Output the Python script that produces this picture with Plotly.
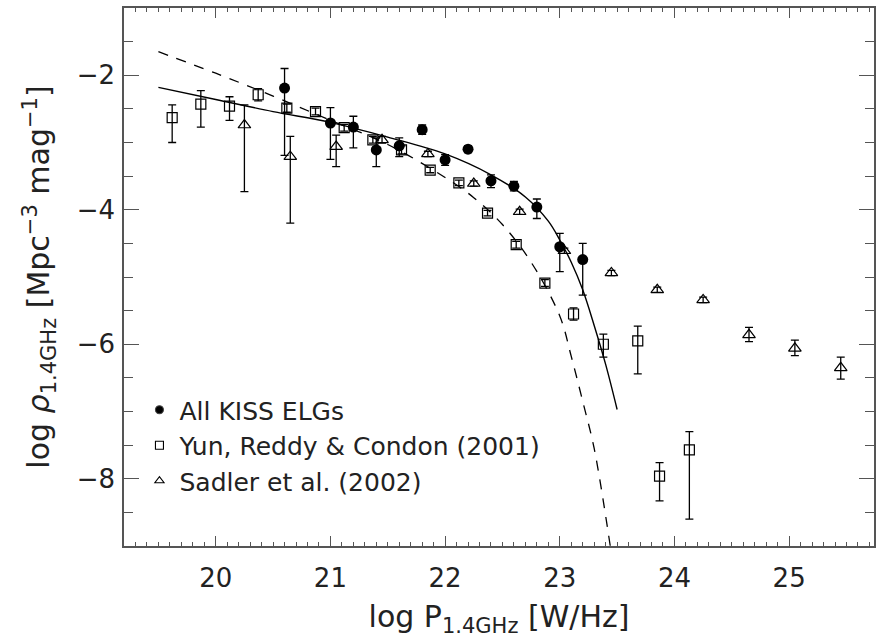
import plotly.graph_objects as go

# ---- data ----
kiss_x = [20.6, 21.0, 21.2, 21.4, 21.6, 21.8, 22.0, 22.2, 22.4, 22.6, 22.8, 23.0, 23.2]
kiss_y = [-2.19, -2.71, -2.77, -3.11, -3.05, -2.81, -3.26, -3.10, -3.57, -3.65, -3.96, -4.55, -4.74]
kiss_up = [0.29, 0.23, 0.16, 0.18, 0.12, 0.07, 0.08, 0.05, 0.09, 0.07, 0.12, 0.20, 0.24]
kiss_dn = [1.00, 0.54, 0.31, 0.25, 0.16, 0.07, 0.08, 0.05, 0.10, 0.07, 0.17, 0.37, 0.53]

yun_x = [19.62, 19.87, 20.12, 20.37, 20.62, 20.87, 21.12, 21.37, 21.62, 21.87,
         22.12, 22.37, 22.62, 22.87, 23.12, 23.38, 23.68, 23.87, 24.13]
yun_y = [-2.63, -2.43, -2.46, -2.29, -2.49, -2.54, -2.78, -2.96, -3.11, -3.41,
         -3.60, -4.05, -4.52, -5.09, -5.55, -6.00, -5.95, -7.96, -7.57]
yun_up = [0.19, 0.20, 0.14, 0.09, 0.06, 0.05, 0.05, 0.05, 0.06, 0.04,
          0.04, 0.04, 0.05, 0.05, 0.09, 0.15, 0.22, 0.20, 0.27]
yun_dn = [0.37, 0.34, 0.21, 0.09, 0.06, 0.05, 0.05, 0.05, 0.06, 0.04,
          0.04, 0.04, 0.05, 0.05, 0.09, 0.19, 0.49, 0.37, 1.03]

sad_x = [20.25, 20.65, 21.05, 21.45, 21.85, 22.25, 22.65, 23.04, 23.45, 23.85,
         24.25, 24.65, 25.05, 25.45]
sad_y = [-2.74, -3.21, -3.06, -2.96, -3.17, -3.61, -4.03, -4.61, -4.94, -5.19,
         -5.34, -5.86, -6.06, -6.35]
sad_up = [0.30, 0.30, 0.17, 0.05, 0.04, 0.04, 0.04, 0.04, 0.04, 0.04,
          0.04, 0.11, 0.12, 0.16]
sad_dn = [0.99, 0.99, 0.30, 0.05, 0.04, 0.04, 0.04, 0.04, 0.04, 0.04,
          0.04, 0.10, 0.11, 0.17]

# fitted curves
fit_solid_x = [19.5, 20.0, 20.5, 21.0, 21.5, 22.0, 22.4, 22.7, 22.9, 23.0, 23.1, 23.2, 23.3, 23.4, 23.5]
fit_solid_y = [-2.18, -2.36, -2.54, -2.70, -2.92, -3.17, -3.48, -3.81, -4.17, -4.45, -4.78, -5.19, -5.72, -6.30, -6.97]
fit_dash_x = [19.5, 20.0, 20.5, 21.0, 21.5, 22.0, 22.25, 22.5, 22.75, 23.0, 23.1, 23.2, 23.3, 23.44]
fit_dash_y = [-1.65, -1.97, -2.31, -2.67, -3.03, -3.52, -3.82, -4.22, -4.78, -5.58, -6.18, -6.85, -7.55, -9.0]

legend_names = ["All KISS ELGs", "Yun, Reddy & Condon (2001)", "Sadler et al. (2002)"]

FONT = "DejaVu Sans"
INK = "#222222"
AX = "#555555"

fig = go.Figure()

fig.add_trace(go.Scatter(x=fit_dash_x, y=fit_dash_y, mode="lines", showlegend=False,
                         line=dict(color="black", width=1.3, dash="10px,9px", shape="spline"),
                         hoverinfo="skip"))
fig.add_trace(go.Scatter(x=fit_solid_x, y=fit_solid_y, mode="lines", showlegend=False,
                         line=dict(color="black", width=1.4, shape="spline"),
                         hoverinfo="skip"))

err = dict(type="data", symmetric=False, color="black", thickness=1.3, width=4)
fig.add_trace(go.Scatter(
    x=kiss_x, y=kiss_y, mode="markers", name=legend_names[0], showlegend=False,
    marker=dict(symbol="circle", size=11, color="black"),
    error_y=dict(err, array=kiss_up, arrayminus=kiss_dn)))
fig.add_trace(go.Scatter(
    x=yun_x, y=yun_y, mode="markers", name=legend_names[1], showlegend=False,
    marker=dict(symbol="square-open", size=10, color="black", line=dict(width=1.2)),
    error_y=dict(err, array=yun_up, arrayminus=yun_dn)))
fig.add_trace(go.Scatter(
    x=sad_x, y=sad_y, mode="markers", name=legend_names[2], showlegend=False,
    marker=dict(symbol="triangle-up-open", size=11, color="black", line=dict(width=1.2)),
    error_y=dict(err, array=sad_up, arrayminus=sad_dn)))

# legend entries with the smaller key symbols used in the reference
for nm, sym, grp in zip(legend_names, ["circle", "square-open", "triangle-up-open"], ["a", "b", "c"]):
    fig.add_trace(go.Scatter(x=[None], y=[None], mode="markers", name=nm, legendgroup=grp,
                             marker=dict(symbol=sym, size=8, color="black", line=dict(width=1.1)),
                             showlegend=True, hoverinfo="skip"))

fig.update_layout(
    width=876, height=640,
    margin=dict(l=124, r=0, t=8, b=94),
    paper_bgcolor="white", plot_bgcolor="white",
    font=dict(family=FONT, color=INK, size=25),
    showlegend=True,
    legend=dict(x=0.0206, y=0.2955, xanchor="left", yanchor="top",
                bgcolor="rgba(0,0,0,0)", borderwidth=0,
                font=dict(family=FONT, size=25, color=INK),
                tracegroupgap=0, traceorder="grouped"),
)

fig.update_xaxes(
    range=[19.2, 25.74], showgrid=False, zeroline=False,
    showline=True, linecolor=AX, linewidth=1.5, mirror="allticks",
    ticks="inside", ticklen=10, tickwidth=1.3, tickcolor=AX,
    dtick=1, tick0=20, ticklabelstandoff=8,
    tickfont=dict(family=FONT, size=26, color=INK),
    minor=dict(dtick=0.1, ticks="inside", ticklen=4, tickwidth=1.1, tickcolor=AX),
    title=dict(text="log P<sub>1.4GHz</sub> [W/Hz]", font=dict(family=FONT, size=30, color=INK),
               standoff=14),
)
fig.update_yaxes(
    range=[-9.0, -1.0], showgrid=False, zeroline=False,
    showline=True, linecolor=AX, linewidth=1.5, mirror="allticks",
    ticks="inside", ticklen=15, tickwidth=1.3, tickcolor=AX,
    dtick=2, tick0=-2, ticklabelstandoff=2,
    tickfont=dict(family=FONT, size=26, color=INK),
    minor=dict(dtick=0.5, ticks="inside", ticklen=9, tickwidth=1.1, tickcolor=AX),
    title=dict(text="log <i>ρ</i><sub>1.4GHz</sub> [Mpc<sup>−3</sup> mag<sup>−1</sup>]",
               font=dict(family=FONT, size=30, color=INK), standoff=18),
)

fig.write_html("out.html")
